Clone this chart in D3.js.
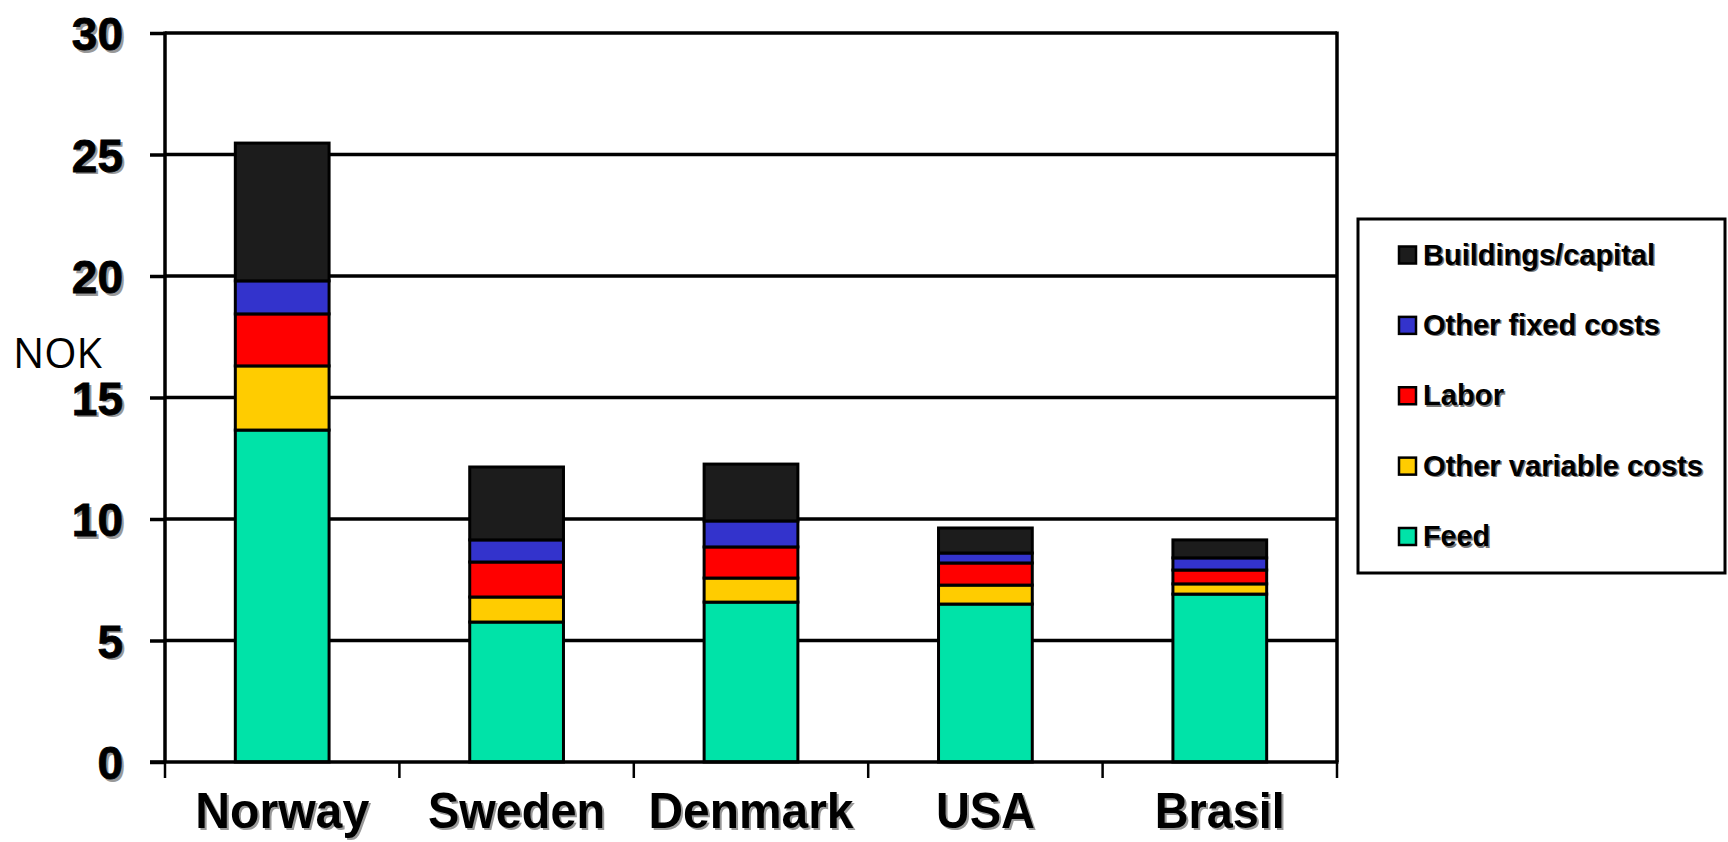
<!DOCTYPE html>
<html><head><meta charset="utf-8">
<script src="https://cdn.jsdelivr.net/npm/d3@7"></script>
<style>
html,body{margin:0;padding:0;background:#fff;}
svg{display:block;font-family:"Liberation Sans",Arial,sans-serif;}
</style></head>
<body><svg id="c" width="1728" height="842"></svg>
<script>
const countries = ["Norway","Sweden","Denmark","USA","Brasil"];
const seriesNames = ["Feed","Other variable costs","Labor","Other fixed costs","Buildings/capital"];
const feed = [13.66, 5.76, 6.58, 6.50, 6.91];
const otherVariable = [2.64, 1.03, 0.99, 0.78, 0.42];
const labor = [2.14, 1.44, 1.28, 0.91, 0.57];
const otherFixed = [1.36, 0.91, 1.07, 0.41, 0.50];
const buildings = [5.67, 3.00, 2.34, 1.03, 0.74];
const yTicks = [0,5,10,15,20,25,30];
const colors = ["#00e3a8","#ffcc00","#ff0000","#3333cc","#1c1c1c"];
const legendOrder = ["Buildings/capital","Other fixed costs","Labor","Other variable costs","Feed"];
const xLabelWidths = [174,177,205,99,130];
const legendWidths = {"Buildings/capital":232,"Other fixed costs":237,"Labor":81,"Other variable costs":280,"Feed":67};

const seriesVals = [feed, otherVariable, labor, otherFixed, buildings];
const table = countries.map((c,i)=>{
  const o = {country:c};
  seriesNames.forEach((s,j)=>o[s]=seriesVals[j][i]);
  return o;
});
const stacked = d3.stack().keys(seriesNames)(table);

const svg = d3.select("#c");
const pL=165, pR=1337, pT=33, pB=762;
const x = d3.scaleBand().domain(countries).range([pL,pR]).padding(0);
const y = d3.scaleLinear().domain([0,30]).range([pB,pT]);
const color = d3.scaleOrdinal().domain(seriesNames).range(colors);

// gridlines
svg.append("g").selectAll("line").data(yTicks.filter(d=>d>0)).join("line")
  .attr("x1",pL).attr("x2",pR).attr("y1",d=>y(d)).attr("y2",d=>y(d))
  .attr("stroke","#000").attr("stroke-width",3.5);
// right border
svg.append("line").attr("x1",pR).attr("x2",pR).attr("y1",y(30)-1.5).attr("y2",pB)
  .attr("stroke","#000").attr("stroke-width",3.5);

// bars
const bw = x.bandwidth()*0.4;
svg.append("g").selectAll("g").data(stacked).join("g")
  .attr("fill",d=>color(d.key))
  .selectAll("rect").data(d=>d).join("rect")
  .attr("x",d=>x(d.data.country)+(x.bandwidth()-bw)/2)
  .attr("width",bw)
  .attr("y",d=>y(d[1]))
  .attr("height",d=>y(d[0])-y(d[1]))
  .attr("stroke","#000").attr("stroke-width",3);

// y axis
const yAxis = d3.axisLeft(y).tickValues(yTicks).tickSize(15).tickPadding(27).tickFormat(d3.format("d"));
const ga = svg.append("g").attr("transform",`translate(${pL},0)`).call(yAxis);
ga.select(".domain").attr("stroke","#000").attr("stroke-width",3.5).attr("d",`M0,${pT-1.5}V${pB}`);
ga.selectAll(".tick line").attr("stroke","#000").attr("stroke-width",3.5);
ga.selectAll(".tick text").attr("font-size",46).attr("font-weight","bold").attr("fill","#000")
  .attr("font-family","'Liberation Sans',Arial,sans-serif").attr("dy","0.36em")
  .attr("stroke","#000").attr("stroke-width",0.8)
  .each(function(){
    const t=d3.select(this);
    const p=this.parentNode;
    d3.select(p).insert("text","text").text(t.text())
      .attr("x",+t.attr("x")+2.5).attr("y",2.5).attr("dy","0.36em")
      .attr("text-anchor","end").attr("font-size",46).attr("font-weight","bold")
      .attr("fill","#999").attr("font-family","'Liberation Sans',Arial,sans-serif");
  });

// x axis
const xb = [...countries.map(c=>x(c)), pR];
svg.append("line").attr("x1",pL-15).attr("x2",pR+1.5).attr("y1",pB).attr("y2",pB)
  .attr("stroke","#000").attr("stroke-width",3.5);
svg.append("g").selectAll("line").data(xb).join("line")
  .attr("x1",d=>d).attr("x2",d=>d).attr("y1",pB).attr("y2",pB+16)
  .attr("stroke","#000").attr("stroke-width",2.5);

const xl = svg.append("g");
countries.forEach((c,i)=>{
  const cx = x(c)+x.bandwidth()/2;
  [["#999",2],["#000",0]].forEach(([f,o])=>{
    xl.append("text").text(c).attr("x",cx+o).attr("y",828+o)
      .attr("text-anchor","middle").attr("font-size",50).attr("font-weight","bold")
      .attr("fill",f).attr("textLength",xLabelWidths[i]).attr("lengthAdjust","spacingAndGlyphs");
  });
});

// NOK
svg.append("text").text("NOK").attr("x",13).attr("y",368).attr("font-size",42)
  .attr("textLength",89).attr("lengthAdjust","spacingAndGlyphs").attr("fill","#000")
  .attr("font-family","'Open Sans','Liberation Sans',Arial,sans-serif");

// legend
const lg = svg.append("g");
lg.append("rect").attr("x",1358).attr("y",219).attr("width",367).attr("height",354)
  .attr("fill","#fff").attr("stroke","#000").attr("stroke-width",3);
const ly = d3.scalePoint().domain(legendOrder).range([255.5,537]);
legendOrder.forEach(s=>{
  lg.append("rect").attr("x",1399).attr("y",ly(s)-9).attr("width",17).attr("height",17)
    .attr("fill",color(s)).attr("stroke","#000").attr("stroke-width",2.5);
  [["#777",1.5],["#000",0]].forEach(([f,o])=>{
    lg.append("text").text(s).attr("x",1423+o).attr("y",ly(s)+9+o)
      .attr("font-size",30).attr("font-weight","bold").attr("fill",f)
      .attr("textLength",legendWidths[s]).attr("lengthAdjust","spacingAndGlyphs");
  });
});
</script></body></html>
